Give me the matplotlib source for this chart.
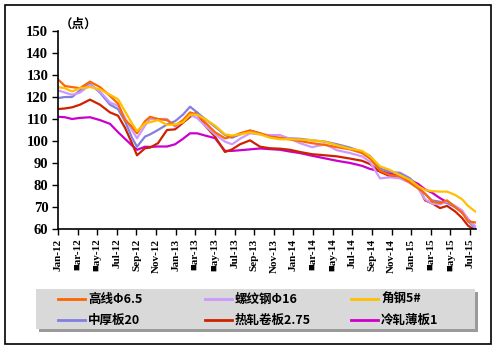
import matplotlib
matplotlib.use('Agg')
from matplotlib import pyplot as plt
from matplotlib.patches import Rectangle
from matplotlib.lines import Line2D

# month offset from Jan 2012
months = [0.0, 0.71, 1.43, 2.24, 3.26, 4.28, 5.30, 6.12, 6.83, 7.54, 8.05, 8.87, 9.38, 10.19,
          11.11, 11.93, 12.74, 13.46, 14.17, 14.98, 16.0, 17.02, 17.74, 18.55, 19.57, 20.59,
          21.61, 22.63, 23.65, 24.67, 25.89, 27.22, 28.44, 29.77, 30.99, 31.8, 32.82, 33.84,
          34.86, 35.88, 36.7, 37.41, 38.12, 38.94, 39.65, 40.47, 41.18, 41.79, 42.51]

gaoxian = [128, 125, 124.5, 124, 127, 124.5, 120.5, 117, 109.5, 106.5, 103.5, 109, 111, 110,
           109.5, 107, 109.5, 113, 112, 108.5, 104, 101.2, 102, 103.5, 104.8, 103.5,
           102, 101.5, 100.7, 100, 99, 98.2, 97.2, 96.2, 94.5, 92, 86.5, 84.5,
           84, 81, 78.5, 76, 72.5, 71.8, 73, 70, 67.5, 63.5, 63]
luowen = [123, 122, 121, 122, 125.5, 122.5, 117.5, 116, 110.5, 105, 101.2, 107, 110, 110,
          110, 106.5, 109, 111.8, 110.5, 107, 103, 99.7, 98.5, 101, 103.5, 103,
          102.7, 102.7, 101, 99, 97.2, 98.5, 95.8, 94.5, 93, 90.5, 83, 83.5,
          83, 81, 78.5, 73.5, 71.5, 71.2, 72.5, 70.5, 68.5, 64.5, 61]
jiaogang = [124.5, 124, 122.5, 124, 124.5, 123.5, 121, 119, 113.5, 108, 104.5, 108, 108.5, 109.5,
            107.3, 107.5, 108.5, 112, 112, 110, 107, 103, 102.5, 103, 104, 103,
            101.5, 100.8, 100.8, 100.7, 100.3, 99.7, 98, 96.5, 95.5, 93, 88.5, 86.8,
            84.5, 82.3, 79.5, 77.7, 77.2, 77, 77, 75.5, 73.5, 70.5, 68]
zhonghou = [119.5, 120, 120, 123, 126, 122, 116.5, 114.5, 109, 101.5, 97.4, 102, 103, 105,
            107.5, 109, 112, 115.6, 113, 110, 106.5, 102.7, 101.5, 103, 104.7, 103.5,
            102, 101.2, 101.2, 101, 100.3, 99.7, 98.5, 97, 95, 93.2, 87.5, 86,
            85.5, 83, 79, 76, 73, 72.4, 71.8, 70, 68, 63.5, 60.5]
rezha = [114.5, 114.8, 115.3, 116.5, 118.8, 116.5, 113, 111.5, 106, 99, 93.5, 96.7, 97, 99,
         105, 105.3, 108.3, 111, 113, 107, 102, 95, 96.2, 98.5, 100.3, 97.4,
         96.7, 96.5, 96, 95, 94, 93.5, 93, 92, 91, 89.5, 86, 84,
         83.5, 82.5, 79.5, 73, 71.7, 69.5, 70.5, 68, 65, 61.5, 59.5]
lengzha = [111, 110.8, 110, 110.5, 110.8, 109.5, 107.8, 104, 101, 98, 96, 97.4, 97.3, 97.5,
           97.5, 98.5, 101, 103.5, 103.5, 102.5, 101.3, 95.5, 95.5, 95.8, 96.2, 96.6,
           96.3, 96, 95.2, 94.5, 93.3, 92.1, 91, 90, 88.7, 87.3, 86.3, 85.3,
           83.8, 82.3, 80.5, 78, 76.5, 74, 72.2, 70, 67.5, 64.5, 61]

names = ['高线Φ6.5', '螺纹钢Φ16', '角钢5#', '中厚板20', '热轧卷板2.75', '冷轧薄板1']
colors = ['#FF6600', '#CC99FF', '#FFC000', '#8080E0', '#CC2200', '#CC00CC']
series = [gaoxian, luowen, jiaogang, zhonghou, rezha, lengzha]

tick_labels = ['Jan-12', '■ar-12', '■ay-12', 'Jul-12', 'Sep-12', 'Nov-12',
               'Jan-13', '■ar-13', '■ay-13', 'Jul-13', 'Sep-13', 'Nov-13',
               'Jan-14', '■ar-14', '■ay-14', 'Jul-14', 'Sep-14', 'Nov-14',
               'Jan-15', '■ar-15', '■ay-15', 'Jul-15']
tick_pos = [2 * i for i in range(len(tick_labels))]

num_font = ['Liberation Serif', 'DejaVu Serif']
cjk_font = ['Noto Sans CJK SC', 'DejaVu Sans']

fig = plt.figure(figsize=(5.01, 3.52), dpi=100)
W, H = 501.0, 352.0

# outer frame
fig.patches.append(Rectangle((5 / W, 1 - 344 / H), 486 / W, 339 / H, transform=fig.transFigure,
                             fill=False, edgecolor='black', linewidth=1.2))

ax = fig.add_axes([58 / W, 1 - 229 / H, 418 / W, 198 / H])
# lower series drawn first
for idx in [5, 4, 3, 1, 0, 2]:
    ax.plot(months, series[idx], color=colors[idx], linewidth=1.6, solid_joinstyle='round')

ax.set_xlim(0, 42.6)
ax.set_ylim(60, 150)
ax.set_yticks(range(60, 151, 10))
ax.set_xticks(tick_pos)
ax.set_xticklabels(tick_labels, rotation=90, family=num_font, fontweight='bold', fontsize=8)
for lab in ax.get_yticklabels():
    lab.set_family(num_font)
    lab.set_fontweight('bold')
    lab.set_fontsize(10.5)
ax.tick_params(axis='both', direction='out', length=4, width=1, color='black', pad=3)
ax.spines['top'].set_visible(False)
ax.spines['right'].set_visible(False)
ax.spines['left'].set_linewidth(1.2)
ax.spines['bottom'].set_linewidth(1.2)

fig.text(60 / W, 1 - 24 / H, '（点）', family=cjk_font, fontweight='bold', fontsize=9,
         ha='left', va='center')

# legend box with shadow
fig.patches.append(Rectangle((39 / W, 1 - 332 / H), 439 / W, 40 / H, transform=fig.transFigure,
                             facecolor='#9A9A9A', edgecolor='none'))
fig.patches.append(Rectangle((36 / W, 1 - 329 / H), 439 / W, 40 / H, transform=fig.transFigure,
                             facecolor='#D9D9D9', edgecolor='none'))
col_x = [58, 205, 351]
row_y = [299, 320]
for i, name in enumerate(names):
    cx = col_x[i % 3]
    ry = row_y[i // 3]
    fig.lines.append(Line2D([cx / W, (cx + 27) / W], [1 - ry / H, 1 - ry / H],
                            transform=fig.transFigure, color=colors[i], linewidth=2))
    fig.text((cx + 30) / W, 1 - ry / H, name, family=cjk_font, fontweight='bold',
             fontsize=9, ha='left', va='center')

plt.savefig('out.png', dpi=100)
